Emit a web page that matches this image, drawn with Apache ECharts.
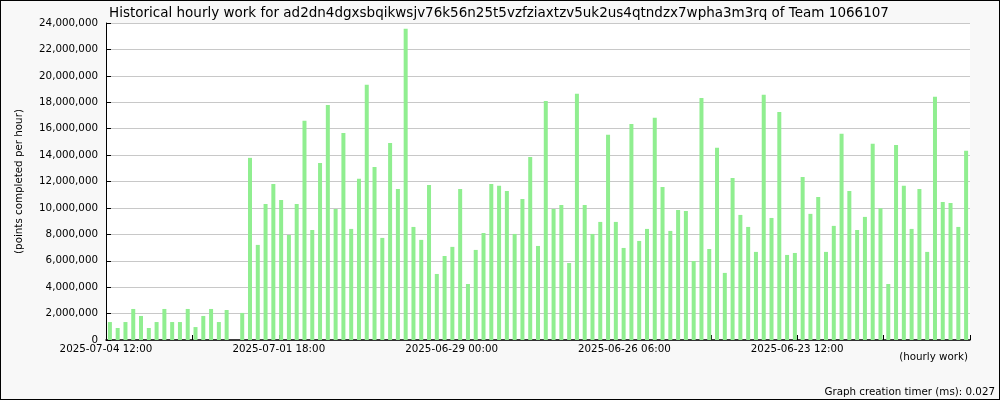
<!DOCTYPE html>
<html>
<head>
<meta charset="utf-8">
<script src="https://cdn.jsdelivr.net/npm/echarts@6/dist/echarts.min.js"></script>
<style>
  html, body { margin: 0; padding: 0; background: #f8f8f8; }
  #chart { width: 998px; height: 398px; border: 1px solid #000; background: #f8f8f8; }
</style>
</head>
<body>
<div id="chart"></div>
<script>
const titleText = 'Historical hourly work for ad2dn4dgxsbqikwsjv76k56n25t5vzfziaxtzv5uk2us4qtndzx7wpha3m3rq of Team 1066107';
const yAxisName = '(points completed per hour)';
const xAxisName = '(hourly work)';
const footerText = 'Graph creation timer (ms): 0.027';
const tickLabels = ['2025-07-04 12:00', '2025-07-01 18:00', '2025-06-29 00:00', '2025-06-26 06:00', '2025-06-23 12:00'];
const values = [
  1360000, 910000, 1360000, 2350000, 1820000, 910000, 1360000, 2350000, 1360000, 1360000,
  2350000, 980000, 1820000, 2350000, 1360000, 2270000, 0, 2050000, 13790000, 7200000,
  10300000, 11820000, 10600000, 7950000, 10300000, 16590000, 8330000, 13410000, 17800000, 9920000,
  15680000, 8410000, 12200000, 19320000, 13100000, 7730000, 14920000, 11440000, 23560000, 8560000,
  7580000, 11740000, 5000000, 6360000, 7050000, 11440000, 4240000, 6820000, 8100000, 11820000,
  11670000, 11290000, 8030000, 10680000, 13860000, 7120000, 18100000, 9920000, 10230000, 5830000,
  18640000, 10230000, 8030000, 8940000, 15530000, 8940000, 6970000, 16360000, 7500000, 8410000,
  16820000, 11590000, 8260000, 9850000, 9770000, 5980000, 18330000, 6890000, 14550000, 5080000,
  12270000, 9470000, 8560000, 6670000, 18560000, 9240000, 17270000, 6440000, 6590000, 12350000,
  9550000, 10830000, 6670000, 8640000, 15610000, 11290000, 8330000, 9320000, 14850000, 9970000,
  4240000, 14770000, 11670000, 8410000, 11440000, 6670000, 18410000, 10450000, 10380000, 8560000,
  14320000
];
const categories = values.map((_, i) => String(i));

const FONT = 'DejaVu Sans';
const chart = echarts.init(document.getElementById('chart'), null, { renderer: 'canvas' });
chart.setOption({
  animation: false,
  backgroundColor: '#f8f8f8',
  textStyle: { fontFamily: FONT },
  title: {
    text: titleText, left: 103, top: 0,
    textStyle: { fontFamily: FONT, fontSize: 13.5, fontWeight: 'normal', color: '#000' }
  },
  grid: { left: 105, right: 29, top: 22, bottom: 59, show: true, backgroundColor: '#fff', borderWidth: 0, containLabel: false },
  xAxis: [
    {
      type: 'category', data: categories, boundaryGap: true,
      axisLine: { show: true, lineStyle: { color: '#000', width: 1.5 } },
      axisTick: { show: false }, axisLabel: { show: false }, splitLine: { show: false }
    },
    {
      type: 'value', min: 0, max: 10, interval: 1, position: 'bottom',
      axisLine: { show: false },
      axisTick: { show: true, inside: true, length: 5, lineStyle: { color: '#000', width: 1 } },
      splitLine: { show: false },
      axisLabel: {
        show: true, margin: 4, color: '#000', fontFamily: FONT, fontSize: 10.3,
        showMinLabel: true, showMaxLabel: true,
        formatter: v => (Math.round(v) % 2 === 0 ? (tickLabels[Math.round(v) / 2] || '') : '')
      }
    }
  ],
  yAxis: {
    type: 'value', min: 0, max: 24000000, interval: 2000000,
    name: yAxisName, nameLocation: 'middle', nameGap: 82, nameRotate: 90,
    nameTextStyle: { fontFamily: FONT, fontSize: 10.3, color: '#000' },
    axisLine: { show: true, lineStyle: { color: '#000', width: 1 } },
    axisTick: { show: true, inside: true, length: 5, lineStyle: { color: '#000' } },
    splitLine: { show: true, lineStyle: { color: '#c8c8c8', width: 1 } },
    axisLabel: {
      margin: 8, color: '#000', fontFamily: FONT, fontSize: 10.3,
      formatter: v => v.toLocaleString('en-US')
    }
  },
  series: [{
    type: 'bar', xAxisIndex: 0, data: values, barWidth: 4,
    itemStyle: { color: '#90ee90' }
  }],
  graphic: [
    { type: 'text', right: 31, top: 351, style: { text: xAxisName, font: '10.3px "DejaVu Sans"', fill: '#000' } },
    { type: 'text', right: 4, top: 386, style: { text: footerText, font: '10.3px "DejaVu Sans"', fill: '#000' } }
  ]
});
</script>
</body>
</html>
